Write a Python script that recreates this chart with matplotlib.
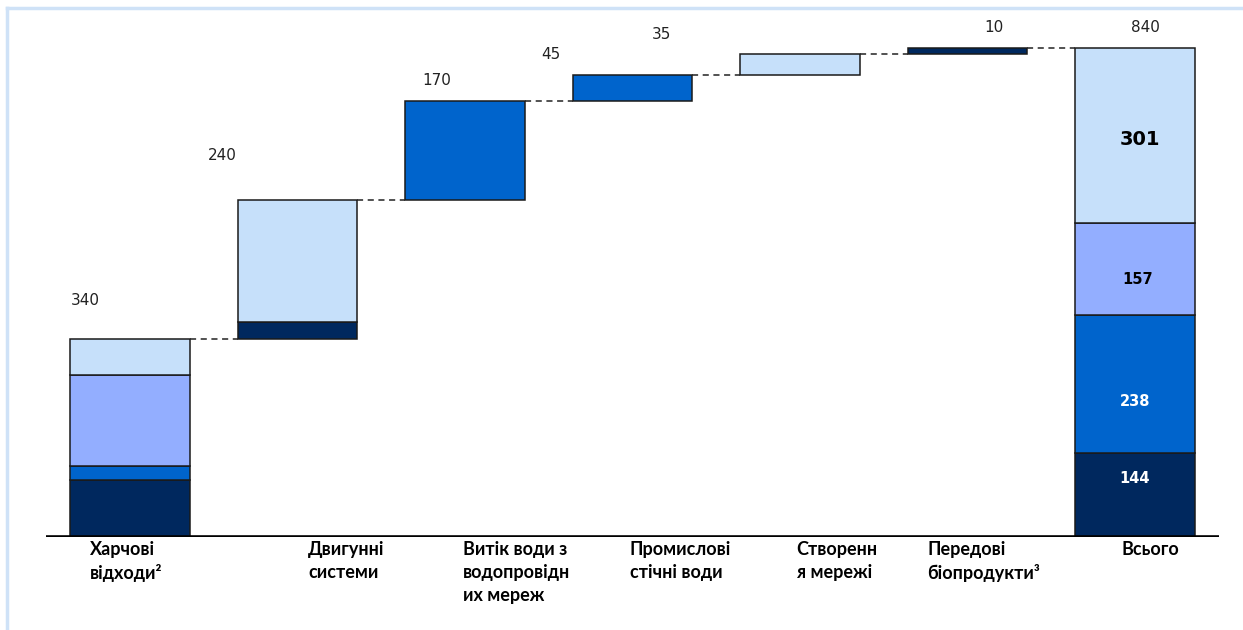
import matplotlib.pyplot as plt
from matplotlib.lines import Line2D

# categories along the x axis
categories = ["Харчові\nвідходи²", "Двигунні\nсистеми", "Витік води з\nводопровідн\nих мереж",
              "Промислові\nстічні води", "Створенн\nя мережі", "Передові\nбіопродукти³", "Всього"]

# contribution of every step, split by segment (navy, blue, periwinkle, light)
navy = [98, 29, 0, 0, 0, 10]
blue = [24, 0, 170, 45, 0, 0]
periwinkle = [157, 0, 0, 0, 0, 0]
light = [61, 211, 0, 0, 35, 0]
step_labels = ["340", "240", "170", "45", "35", "10"]

# total column
total_parts = [144, 238, 157, 301]
total_label = "840"

colors = ["#00285e", "#0064cc", "#93aeff", "#c6e0fa"]
bar_w = 0.716

fig = plt.figure(figsize=(12.43, 6.30), dpi=100)
ax = fig.add_axes([0.0372, 0.1476, 0.9433, 0.8311])
ax.set_xlim(-0.5, 6.5)
ax.set_ylim(0, 900)
ax.axis("off")

# waterfall steps
base = 0
tops = []
for i in range(len(navy)):
    bottom = base
    for vals, c in zip([navy, blue, periwinkle, light], colors):
        v = vals[i]
        if v:
            ax.bar(i, v, bottom=bottom, width=bar_w, color=c, edgecolor="#1a1a1a", linewidth=1.1)
            bottom += v
    base = bottom
    tops.append(base)

# total column
bottom = 0
mids = []
for v, c in zip(total_parts, colors):
    ax.bar(6, v, bottom=bottom, width=bar_w, color=c, edgecolor="#1a1a1a", linewidth=1.1)
    mids.append(bottom + v / 2)
    bottom += v
tops.append(bottom)

# dashed connectors between bar tops
for i in range(len(tops) - 1):
    ax.plot([i + bar_w / 2, i + 1 - bar_w / 2], [tops[i], tops[i]],
            color="#222222", linestyle=(0, (4, 3)), linewidth=1.1)

# baseline
ax.axhline(0, color="black", linewidth=2.6, zorder=5)

# step value labels
offsets = [(-45, 31), (-75, 37), (-28, 13), (-82, 13), (-139, 12), (26, 13), (10, 13)]
for i, (txt, off) in enumerate(zip(step_labels + [total_label], offsets)):
    ax.annotate(txt, (i, tops[i]), xytext=off, textcoords="offset pixels",
                ha="center", va="bottom", fontsize=11, color="#222222", family="DejaVu Sans")

# labels inside the total column
ax.annotate("144", (6, mids[0]), xytext=(0, 17), textcoords="offset pixels", ha="center", va="center",
            fontsize=10.5, color="white", fontweight="bold", family="DejaVu Sans")
ax.annotate("238", (6, mids[1]), xytext=(0, -17), textcoords="offset pixels", ha="center", va="center",
            fontsize=10.5, color="white", fontweight="bold", family="DejaVu Sans")
ax.annotate("157", (6, mids[2]), xytext=(3, -10), textcoords="offset pixels", ha="center", va="center",
            fontsize=10.5, color="black", fontweight="bold", family="DejaVu Sans")
ax.annotate("301", (6, mids[3]), xytext=(5, -4), textcoords="offset pixels", ha="center", va="center",
            fontsize=14, color="black", fontweight="bold", family="DejaVu Sans")

# category labels under the baseline
label_dx = [-0.24, 0.063, -0.01, -0.015, -0.02, -0.24, -0.08]
for i, (name, dx) in enumerate(zip(categories, label_dx)):
    ax.annotate(name, (i + dx, 0), xytext=(0, -4), textcoords="offset pixels",
                ha="left", va="top", fontsize=13, fontweight="bold", family="Lato",
                linespacing=1.42, color="black")

# thin frame lines on the top and left
fig.add_artist(Line2D([7 / 1243, 1], [1 - 8 / 630, 1 - 8 / 630], transform=fig.transFigure,
                      color="#cfe2f7", linewidth=2.5))
fig.add_artist(Line2D([7 / 1243, 7 / 1243], [0, 1 - 8 / 630], transform=fig.transFigure,
                      color="#cfe2f7", linewidth=2.5))

fig.savefig("out.png", dpi=100)
